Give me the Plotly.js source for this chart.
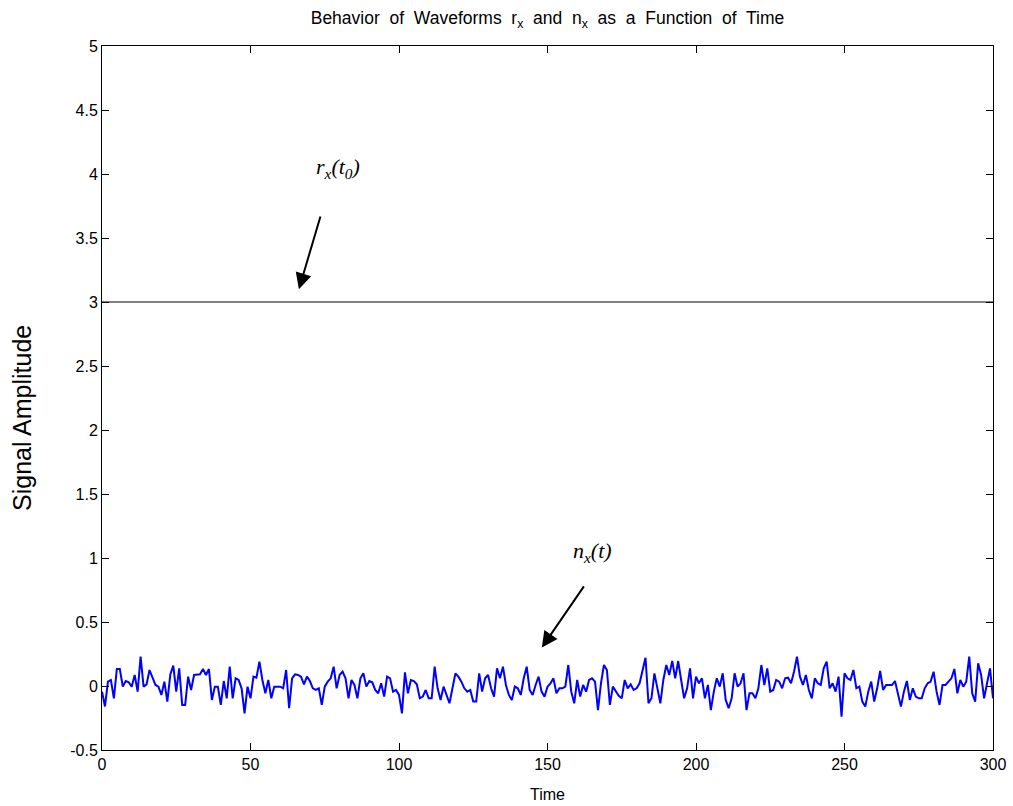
<!DOCTYPE html>
<html>
<head>
<meta charset="utf-8">
<script src="https://cdn.plot.ly/plotly-3.0.1.min.js"></script>
<style>html,body{margin:0;padding:0;background:#fff;}#chart{width:1013px;height:806px;}</style>
</head>
<body>
<div id="chart"></div>
<script>
// n_x(t) noise samples, t = 0..300
const noiseValues = [
 -0.044,-0.16,0.034,0.047,-0.096,0.133,0.133,-0.005,0.039,0.029,-0.005,0.086,-0.044,0.229,-0.005,0.013,0.125,0.06,0.008,-0.005,-0.07,0.034,-0.122,0.091,0.159,-0.044,0.138,-0.148,-0.148,0.073,
 -0.031,0.086,0.091,0.091,0.133,0.086,0.133,-0.109,-0.005,-0.005,-0.148,0.039,-0.096,0.151,-0.096,0.06,0.047,-0.018,-0.214,-0.005,-0.096,0.073,0.065,0.19,0.047,-0.057,0.047,-0.096,-0.005,-0.005,
 -0.005,-0.018,0.125,-0.174,0.06,0.091,0.086,0.073,0.013,0.073,0.039,-0.018,-0.031,-0.018,-0.148,-0.005,0.034,0.06,0.151,-0.018,0.086,0.112,0.06,-0.096,0.047,0.008,-0.096,0.06,0.099,-0.005,
 0.039,0.029,-0.031,-0.057,0.021,-0.083,0.073,0.06,-0.044,-0.031,-0.07,-0.214,0.107,-0.057,0.047,0.039,0.013,-0.096,-0.083,-0.031,-0.096,-0.096,0.151,-0.018,-0.109,-0.005,-0.07,-0.135,-0.018,0.099,
 0.073,0.034,-0.018,-0.044,-0.031,-0.122,-0.122,0.099,-0.044,0.06,0.086,-0.018,-0.083,0.138,0.06,0.151,0.008,-0.07,-0.109,-0.005,-0.018,-0.07,0.06,0.151,-0.031,-0.07,0.008,0.073,-0.044,-0.083,
 -0.005,0.021,0.06,-0.057,-0.018,-0.018,-0.005,0.164,-0.044,-0.135,0.047,-0.083,0.008,-0.044,0.047,0.06,0.034,-0.188,0.021,0.164,0.125,-0.148,-0.005,-0.044,-0.076,-0.096,0.047,-0.018,0.013,-0.031,-0.018,
 0.021,0.112,0.221,-0.135,-0.096,0.099,-0.031,-0.135,0.047,0.164,0.086,0.195,0.06,0.195,0.047,-0.096,-0.018,0.138,-0.096,0.073,0.021,0.06,-0.096,0.008,-0.188,-0.044,0.06,-0.005,0.099,-0.109,
 -0.174,-0.096,0.099,-0.005,0.021,0.099,-0.188,-0.057,-0.057,-0.096,-0.018,0.164,0.008,0.138,-0.044,-0.031,0.047,0.034,-0.018,0.06,0.065,0.021,0.112,0.229,0.073,0.008,0.086,-0.031,-0.096,0.06,0.021,
 0.008,0.138,0.19,-0.018,0.021,-0.044,0.073,-0.24,0.099,0.06,0.047,0.125,-0.018,-0.005,-0.122,-0.161,-0.044,0.034,-0.122,-0.018,0.117,-0.031,0.008,0.008,0.008,0.039,-0.07,-0.161,-0.044,0.039,
 -0.109,-0.018,-0.083,-0.096,-0.096,-0.018,0.021,0.034,0.112,-0.044,-0.148,0.008,0.008,0.034,0.06,0.133,-0.057,0.047,-0.005,0.034,0.229,-0.057,-0.122,0.177,0.086,-0.096,0.034,0.138,-0.096
];
// r_x(t0) constant level
const rxTime = [0, 300];
const rxValue = [3, 3];
const yTickVals = [-0.5, 0, 0.5, 1, 1.5, 2, 2.5, 3, 3.5, 4, 4.5, 5];
const yTickText = ["-0.5", "0", "0.5", "1", "1.5", "2", "2.5", "3", "3.5", "4", "4.5", "5"];
const xTickVals = [0, 50, 100, 150, 200, 250, 300];

const traces = [
  {y: noiseValues, type: 'scatter', mode: 'lines', line: {color: '#0000ff', width: 2}, hoverinfo: 'skip'},
  {x: rxTime, y: rxValue, type: 'scatter', mode: 'lines', line: {color: '#000000', width: 1}, hoverinfo: 'skip'}
];

const layout = {
  width: 1013, height: 806,
  margin: {l: 102, r: 20, t: 46, b: 56},
  paper_bgcolor: '#ffffff', plot_bgcolor: '#ffffff',
  showlegend: false,
  font: {family: 'Liberation Sans, Arial, sans-serif', color: '#000'},
  title: {text: 'Behavior&nbsp; of&nbsp; Waveforms&nbsp; r<sub>x</sub>&nbsp; and&nbsp; n<sub>x</sub>&nbsp; as&nbsp; a&nbsp; Function&nbsp; of&nbsp; Time',
          font: {size: 17.5, color: '#000'}, x: 0.5405, xanchor: 'center', y: 0.985, yanchor: 'top'},
  xaxis: {range: [0, 300], tickvals: xTickVals, ticks: 'inside', ticklen: 7, tickcolor: '#000',
          showline: true, linecolor: '#000', linewidth: 1, mirror: 'ticks', showgrid: false, zeroline: false,
          tickfont: {size: 16}, title: {text: 'Time', font: {size: 16}, standoff: 16}},
  yaxis: {range: [-0.5, 5], tickvals: yTickVals, ticktext: yTickText, ticks: 'inside', ticklen: 7, tickcolor: '#000',
          showline: true, linecolor: '#000', linewidth: 1, mirror: 'ticks', showgrid: false, zeroline: false,
          tickfont: {size: 16}},
  annotations: [
    {x: -0.0898, y: 0.4716, xref: 'paper', yref: 'paper', xanchor: 'center', yanchor: 'middle', showarrow: false, textangle: -90,
     text: 'Signal Amplitude', font: {size: 25, color: '#000'}},
    {x: 79.5, y: 4.05, xref: 'x', yref: 'y', showarrow: false,
     text: '<i>r<sub>x</sub>(t<sub>0</sub>)</i>', font: {family: 'Liberation Serif, Times New Roman, serif', size: 22, color: '#000'}},
    {x: 66.3, y: 3.1, ax: 73.7, ay: 3.68, xref: 'x', yref: 'y', axref: 'x', ayref: 'y', text: '',
     showarrow: true, arrowhead: 2, arrowsize: 1.6, arrowwidth: 2, arrowcolor: '#000'},
    {x: 165.3, y: 1.05, xref: 'x', yref: 'y', showarrow: false,
     text: '<i>n<sub>x</sub>(t)</i>', font: {family: 'Liberation Serif, Times New Roman, serif', size: 22, color: '#000'}},
    {x: 148.1, y: 0.3, ax: 162.6, ay: 0.79, xref: 'x', yref: 'y', axref: 'x', ayref: 'y', text: '',
     showarrow: true, arrowhead: 2, arrowsize: 1.6, arrowwidth: 2, arrowcolor: '#000'}
  ]
};

Plotly.newPlot('chart', traces, layout, {displayModeBar: false, staticPlot: true});
</script>
</body>
</html>
